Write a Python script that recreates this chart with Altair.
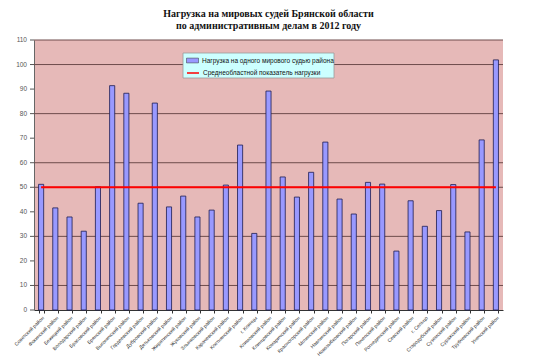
import altair as alt
import pandas as pd

districts = [
    "Советский район", "Фокинский район", "Бежицкий район", "Володарский район",
    "Брасовский район", "Брянский район", "Выгоничский район", "Гордеевский район",
    "Дубровский район", "Дятьковский район", "Жирятинский район", "Жуковский район",
    "Злынковский район", "Карачевский район", "Клетнянский район", "г. Клинцы",
    "Климовский район", "Клинцовский район", "Комаричский район", "Красногорский район",
    "Мглинский район", "Навлинский район", "Новозыбковский район", "Погарский район",
    "Почепский район", "Рогнединский район", "Севский район", "г. Сельцо",
    "Стародубский район", "Суземский район", "Суражский район", "Трубчевский район",
    "Унечский район",
]
load = [51.2, 41.6, 37.9, 32.1, 50.2, 91.4, 88.3, 43.5, 84.3, 42.0, 46.4, 37.9,
        40.7, 50.9, 67.2, 31.2, 89.2, 54.2, 46.0, 56.1, 68.4, 45.2, 39.1, 52.0,
        51.3, 24.0, 44.5, 34.1, 40.5, 51.1, 31.8, 69.3, 101.9]
regional_avg = 50
grid_values = [10, 30, 50, 60, 80, 100, 110]
y_ticks = list(range(0, 111, 10))

bar_name = "Нагрузка на одного мирового судью района"
line_name = "Среднеобластной показатель нагрузки"

df = pd.DataFrame({
    "district": districts,
    "load": load,
    "avg": [regional_avg] * len(districts),
    "bar_series": [bar_name] * len(districts),
    "line_series": [line_name] * len(districts),
})
grid_df = pd.DataFrame({"g": grid_values})
tick_df = pd.DataFrame({"t": y_ticks, "label": [str(v) for v in y_ticks]})

W, H = 469, 270
x_scale = alt.Scale(paddingInner=0.64, paddingOuter=0.32)
y_scale = alt.Scale(domain=[0, 110], nice=False)

y_axis = alt.Axis(title=None, labels=False, ticks=False, grid=False,
                  domainColor="#666")

x_enc = alt.X("district:N", sort=None, scale=x_scale,
              axis=alt.Axis(title=None, labelAngle=-45, labelFontSize=5,
                            labelFont="Liberation Sans", labelColor="#333",
                            labelOverlap=False, labelPadding=2, tickBand="extent",
                            tickSize=3, tickColor="#333", domainColor="#333",
                            labelLimit=200))

grid = alt.Chart(grid_df).mark_rule(color="#6e4c4c", strokeWidth=1).encode(
    y=alt.Y("g:Q", scale=y_scale, axis=y_axis)
)

y_tick_marks = alt.Chart(tick_df).mark_rule(color="#555", strokeWidth=1).encode(
    y=alt.Y("t:Q", scale=y_scale), x=alt.value(-4), x2=alt.value(0)
)
y_tick_labels = alt.Chart(tick_df).mark_text(
    align="right", baseline="middle", font="Liberation Sans", fontSize=6.5, color="#555"
).encode(y=alt.Y("t:Q", scale=y_scale), x=alt.value(-7), text="label:N")

bars = alt.Chart(df).mark_bar(stroke="#1c1c50", strokeWidth=0.8).encode(
    x=x_enc,
    y=alt.Y("load:Q", scale=y_scale),
    fill=alt.Fill("bar_series:N", scale=alt.Scale(domain=[bar_name], range=["#9999ff"]),
                  legend=alt.Legend(title=None, orient="none", legendX=152, legendY=14,
                                    symbolType="M-1,-0.4H1V0.4H-1Z", symbolSize=144,
                                    symbolStrokeColor="#333", symbolStrokeWidth=0.5,
                                    labelFontSize=6.5, labelFont="Liberation Sans",
                                    labelColor="#111", labelOffset=3, padding=0,
                                    labelLimit=300)),
)

line = alt.Chart(df).mark_line(strokeWidth=2).encode(
    x=alt.X("district:N", sort=None, scale=x_scale),
    y=alt.Y("avg:Q", scale=y_scale),
    stroke=alt.Stroke("line_series:N", scale=alt.Scale(domain=[line_name], range=["#ff0000"]),
                      legend=alt.Legend(title=None, orient="none", legendX=152, legendY=26,
                                        symbolType="stroke", symbolSize=144,
                                        symbolStrokeWidth=1.5,
                                        labelFontSize=6.5, labelFont="Liberation Sans",
                                        labelColor="#111", labelOffset=3, padding=0,
                                        labelLimit=300)),
)

legend_box = alt.Chart(pd.DataFrame({"a": [0]})).mark_rect(
    fill="#ccffff", stroke="#9a9a9a", strokeWidth=0.8
).encode(x=alt.value(149), x2=alt.value(300), y=alt.value(13), y2=alt.value(38))

chart = alt.layer(grid, y_tick_marks, y_tick_labels, bars, line, legend_box).resolve_scale(
    fill="independent", stroke="independent"
).properties(
    width=W, height=H,
    background="white",
    autosize=alt.AutoSizeParams(type="none"),
    padding={"left": 26, "top": 32, "right": 23, "bottom": 48},
    title=alt.TitleParams(
        text=["Нагрузка на мировых судей Брянской области",
              "по административным делам в 2012 году"],
        font="Liberation Serif", fontSize=10, fontWeight="bold", color="#111",
        anchor="middle", offset=6, lineHeight=12,
    ),
).configure_view(fill="#e6b9b8", stroke=None)

chart.save("out.html", embed_options={"renderer": "svg", "actions": False})
